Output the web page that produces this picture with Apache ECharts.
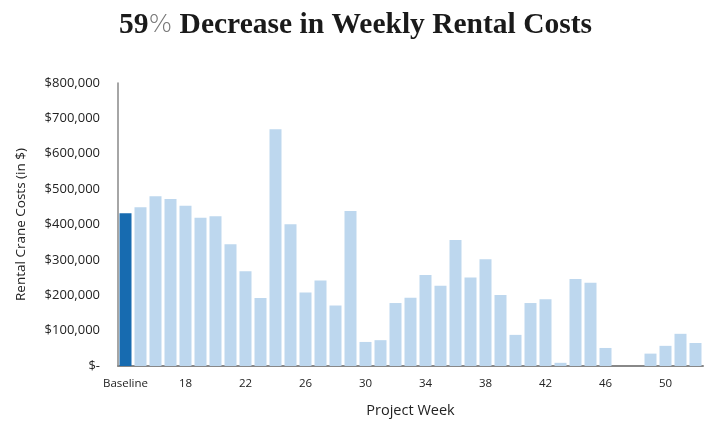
<!DOCTYPE html>
<html>
<head>
<meta charset="utf-8">
<script src="https://cdn.jsdelivr.net/npm/echarts@6/dist/echarts.min.js"></script>
<style>
  html, body { margin: 0; padding: 0; background: #fff; }
  #chart { width: 711px; height: 423px; }
</style>
</head>
<body>
<div id="chart"></div>
<script>
const weeks = ['Baseline', '15', '16', '17', '18', '19', '20', '21', '22', '23', '24', '25', '26',
  '27', '28', '29', '30', '31', '32', '33', '34', '35', '36', '37', '38', '39', '40', '41', '42',
  '43', '44', '45', '46', '47', '48', '49', '50', '51', '52']
const costs = [432000, 449000, 480000, 472000, 453000, 419000, 423000, 344000, 268000, 192000,
  669000, 401000, 208000, 242000, 171000, 438000, 68000, 73000, 178000, 193000,
  257000, 227000, 356000, 250000, 302000, 201000, 88000, 178000, 189000, 9000,
  246000, 235000, 51000, 0, 0, 35000, 57000, 91000, 65000]

const baseColor = '#176bb0'
const weekColor = '#bdd7ee'
const labelFont = '"Open Sans", "Noto Sans", sans-serif'

const chart = echarts.init(document.getElementById('chart'))

chart.setOption({
  animation: false,
  title: {
    text: '{b|59}{p|%}{b| Decrease in Weekly Rental Costs}',
    left: 'center',
    top: 5,
    textStyle: {
      rich: {
        b: { fontFamily: '"Liberation Serif", "DejaVu Serif", serif', fontWeight: 'bold', fontSize: 29.5, color: '#1a1a1a' },
        p: { fontFamily: '"DejaVu Sans", sans-serif', fontWeight: 200, fontSize: 25, color: '#777' }
      }
    }
  },
  grid: { left: 118, right: 8, top: 83, bottom: 57 },
  xAxis: {
    type: 'category',
    data: weeks,
    name: 'Project Week',
    nameLocation: 'middle',
    nameGap: 37,
    nameTextStyle: { fontFamily: labelFont, fontSize: 14.5, color: '#222' },
    axisLine: { lineStyle: { color: '#888', width: 2 } },
    axisTick: { show: false },
    axisLabel: { interval: 3, fontFamily: labelFont, fontSize: 11.5, color: '#222', margin: 12 }
  },
  yAxis: {
    type: 'value',
    min: 0,
    max: 800000,
    interval: 100000,
    name: 'Rental Crane Costs (in $)',
    nameLocation: 'middle',
    nameGap: 90,
    nameTextStyle: { fontFamily: labelFont, fontSize: 13.5, color: '#222' },
    axisLine: { show: true, lineStyle: { color: '#888', width: 1.5 } },
    axisTick: { show: false },
    splitLine: { show: false },
    axisLabel: {
      fontFamily: labelFont,
      fontSize: 13,
      color: '#222',
      margin: 18,
      formatter: v => v === 0 ? '$-' : '$' + v.toLocaleString('en-US')
    }
  },
  series: [{
    type: 'bar',
    barCategoryGap: '20%',
    data: costs.map((v, i) => ({
      value: v,
      itemStyle: { color: i === 0 ? baseColor : weekColor }
    }))
  }]
})
</script>
</body>
</html>
